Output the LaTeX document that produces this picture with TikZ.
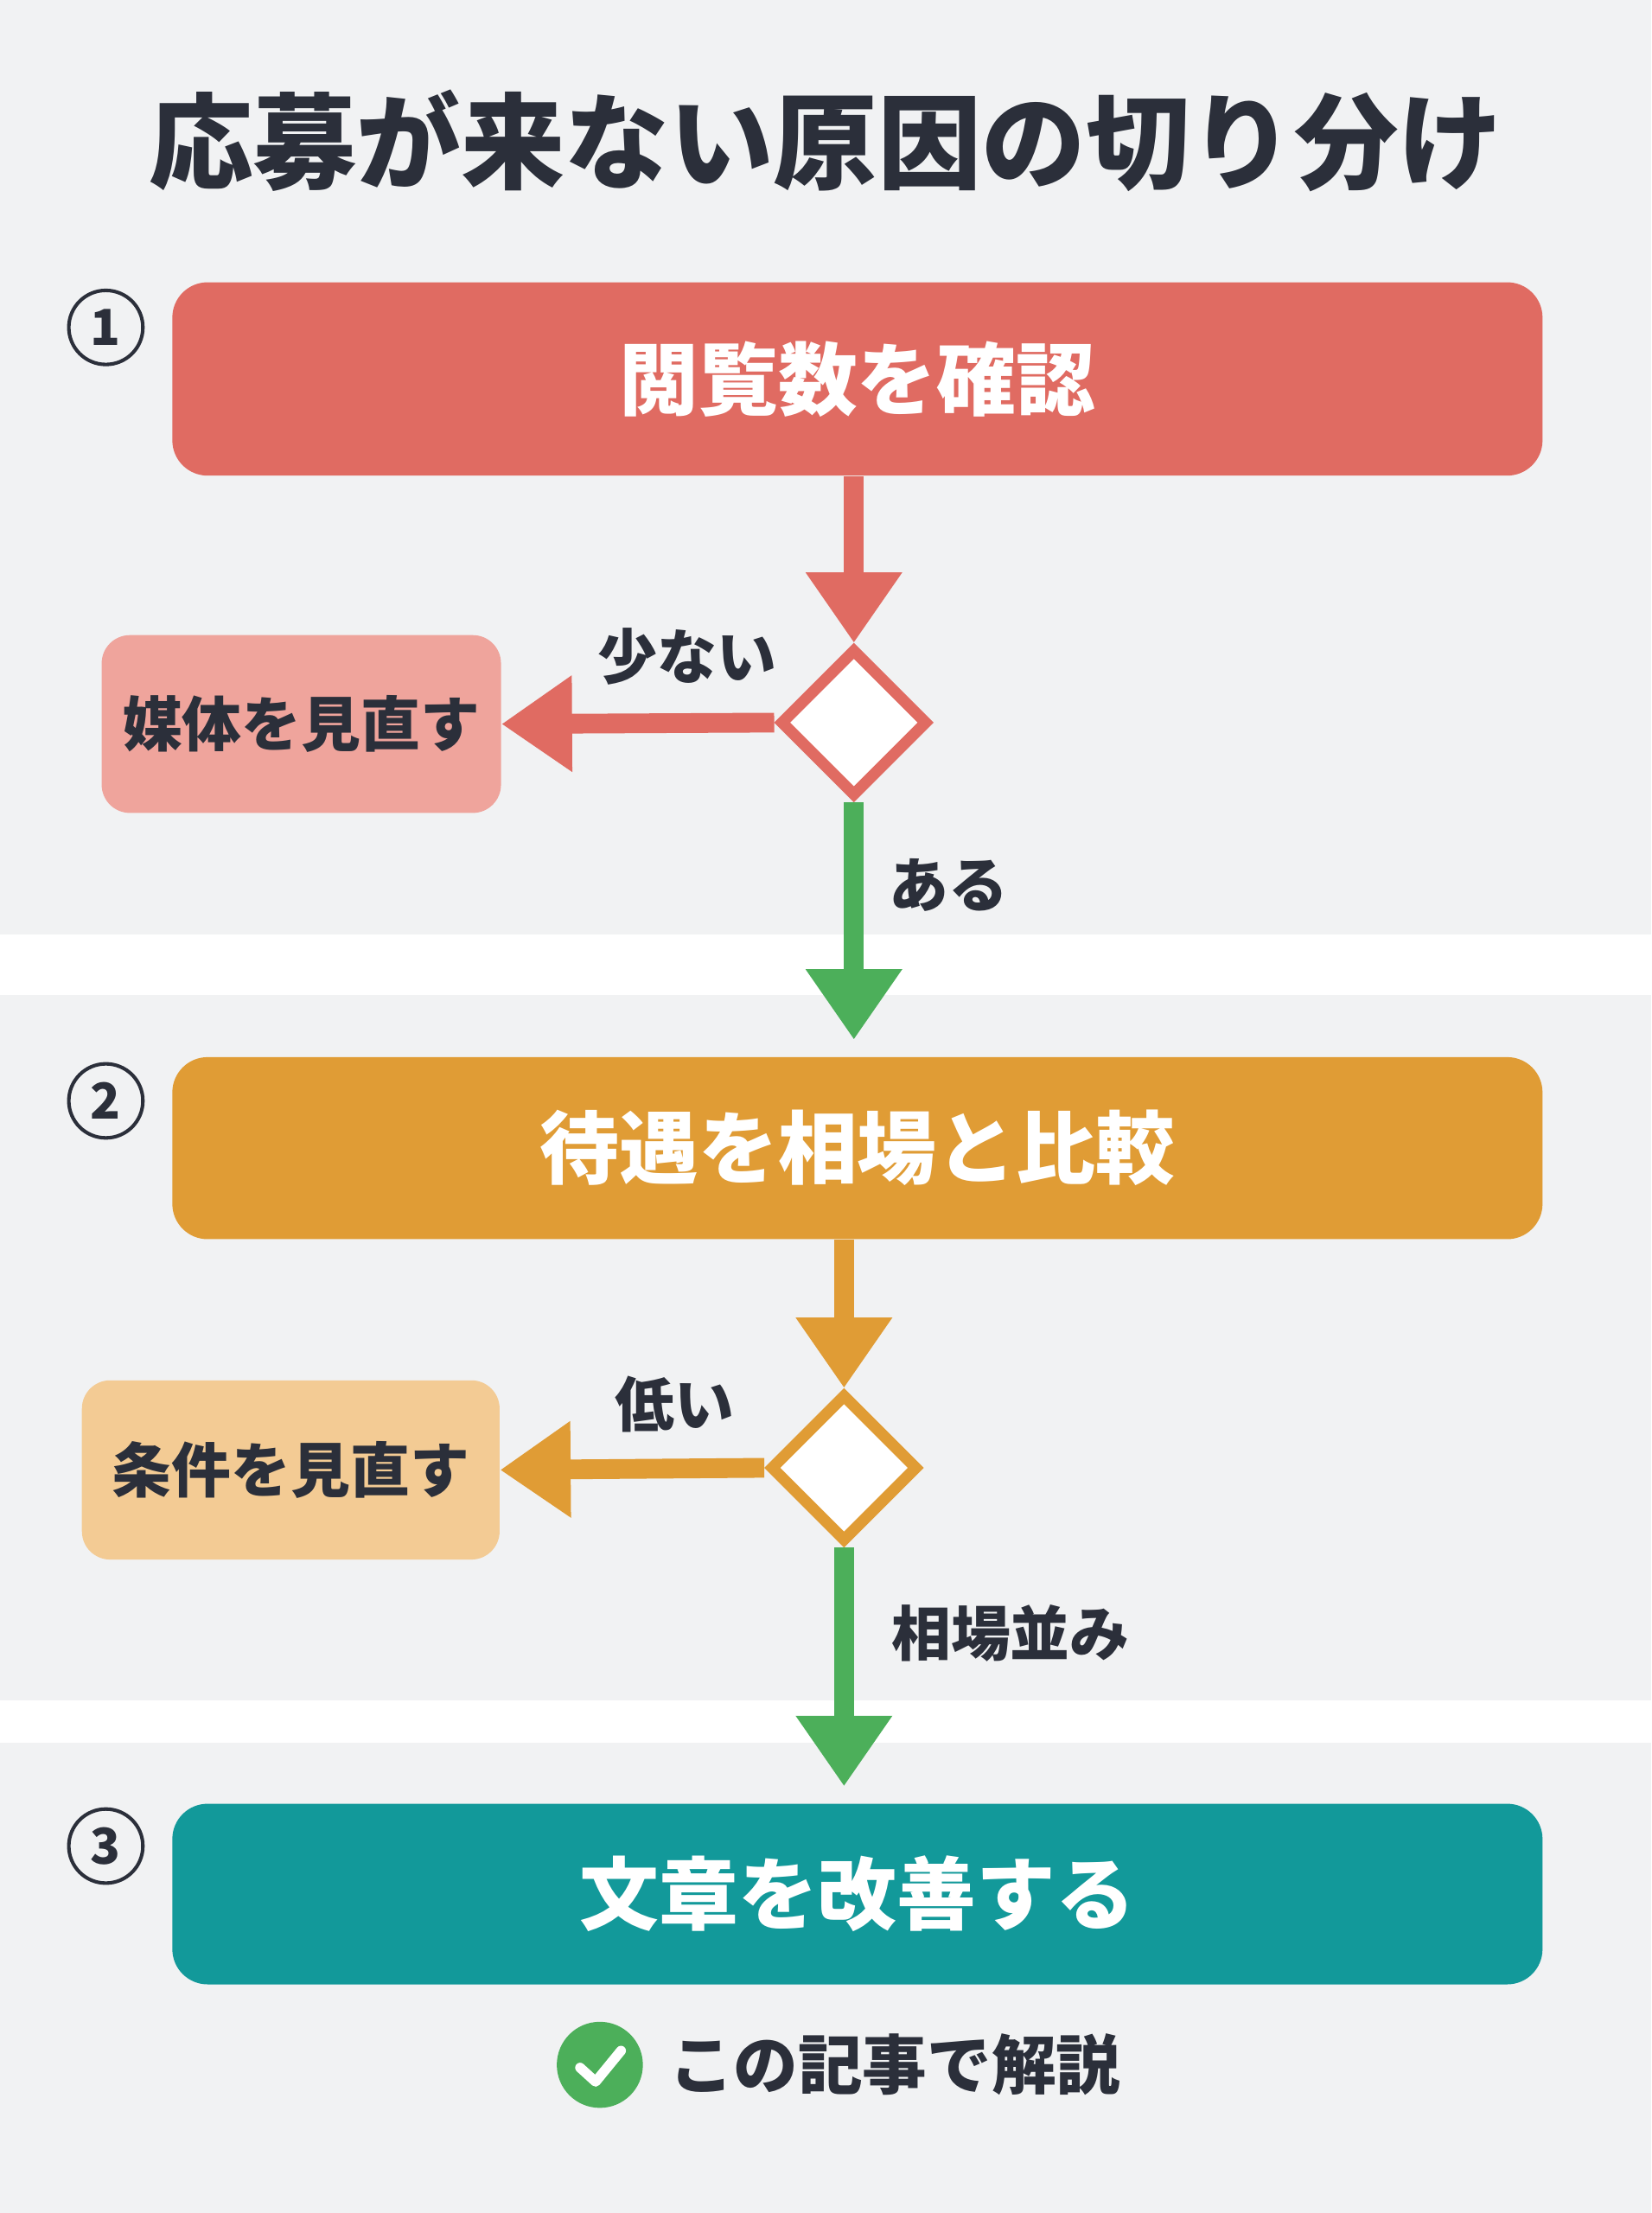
\documentclass[tikz,border=0pt]{standalone}
\usepackage{fontspec}
\setmainfont{Noto Sans CJK JP}
\usetikzlibrary{shapes.geometric,arrows.meta}
\definecolor{bg}{HTML}{F1F2F3}
\definecolor{ink}{HTML}{2B2F3A}
\definecolor{cred}{HTML}{E06B62}
\definecolor{cpink}{HTML}{EFA49C}
\definecolor{corg}{HTML}{E09C35}
\definecolor{cpeach}{HTML}{F3CB94}
\definecolor{cteal}{HTML}{12999A}
\definecolor{cgreen}{HTML}{4CAF5A}
\begin{document}
\begin{tikzpicture}[x=0.02cm,y=-0.02cm,
  box/.style={rounded corners=0.5cm,inner sep=0,font=\fontsize{32}{36}\selectfont\bfseries},
  side/.style={rounded corners=0.4cm,inner sep=0,text=ink,font=\fontsize{24}{28}\selectfont\bfseries},
  dia/.style={diamond,draw,fill=white,line width=0.16cm,minimum width=2.1cm,minimum height=2.1cm,inner sep=0},
  arr/.style={line width=0.28cm,-{Triangle[length=1cm,width=1.3cm]}},
  lab/.style={text=ink,font=\fontsize{24}{28}\selectfont\bfseries},
  num/.style={circle,draw=ink,line width=0.05cm,minimum size=1.05cm,inner sep=0,text=ink,font=\fontsize{20}{24}\selectfont\bfseries}]
\useasboundingbox (0,0) rectangle (1170,1568);
\fill[bg] (0,0) rectangle (1170,1568);
\fill[white] (0,662) rectangle (1170,705);
\fill[white] (0,1205) rectangle (1170,1235);
\node[text=ink,font=\fontsize{42}{48}\selectfont\bfseries] (title) at (585,100) {応募が来ない原因の切り分け};
\node[num] (n1) at (75,232) {1};
\node[num] (n2) at (75,780) {2};
\node[num] (n3) at (75,1308) {3};
\node[box,fill=cred,text=white,minimum width=19.42cm,minimum height=2.74cm] (b1) at (607.5,268.5) {閲覧数を確認};
\node[dia,draw=cred] (d1) at (605,512) {};
\node[side,fill=cpink,minimum width=5.66cm,minimum height=2.52cm] (m1) at (213.5,513) {媒体を見直す};
\draw[arr,cred] (b1.south -| d1) -- (d1.north);
\draw[arr,cred] (d1.west) -- (m1.east);
\node[lab] (l1) at (487,465) {少ない};
\node[box,fill=corg,text=white,minimum width=19.42cm,minimum height=2.58cm] (b2) at (607.5,813.5) {待遇を相場と比較};
\draw[arr,cgreen,shorten >=12*0.02cm] (d1.south) -- (b2.north -| d1);
\node[lab] (l2) at (672,627) {ある};
\node[dia,draw=corg] (d2) at (598,1040) {};
\node[side,fill=cpeach,minimum width=5.92cm,minimum height=2.54cm] (m2) at (206,1041.5) {条件を見直す};
\draw[arr,corg] (b2.south -| d2) -- (d2.north);
\draw[arr,corg] (d2.west) -- (m2.east);
\node[lab] (l3) at (478,995) {低い};
\node[box,fill=cteal,text=white,minimum width=19.42cm,minimum height=2.56cm] (b3) at (607.5,1342) {文章を改善する};
\draw[arr,cgreen,shorten >=12*0.02cm] (d2.south) -- (b3.north -| d2);
\node[lab] (l4) at (716,1157) {相場並み};
\node[circle,fill=cgreen,minimum size=1.22cm,inner sep=0] (ck) at (425,1463) {};
\draw[white,line width=0.14cm,line cap=round,line join=round] ([shift={(-14,2)}]ck.center) -- ([shift={(-3,12)}]ck.center) -- ([shift={(15,-10)}]ck.center);
\node[text=ink,font=\fontsize{26}{30}\selectfont\bfseries,anchor=west] (c1) at (468,1463) {この記事で解説};
\end{tikzpicture}
\end{document}
